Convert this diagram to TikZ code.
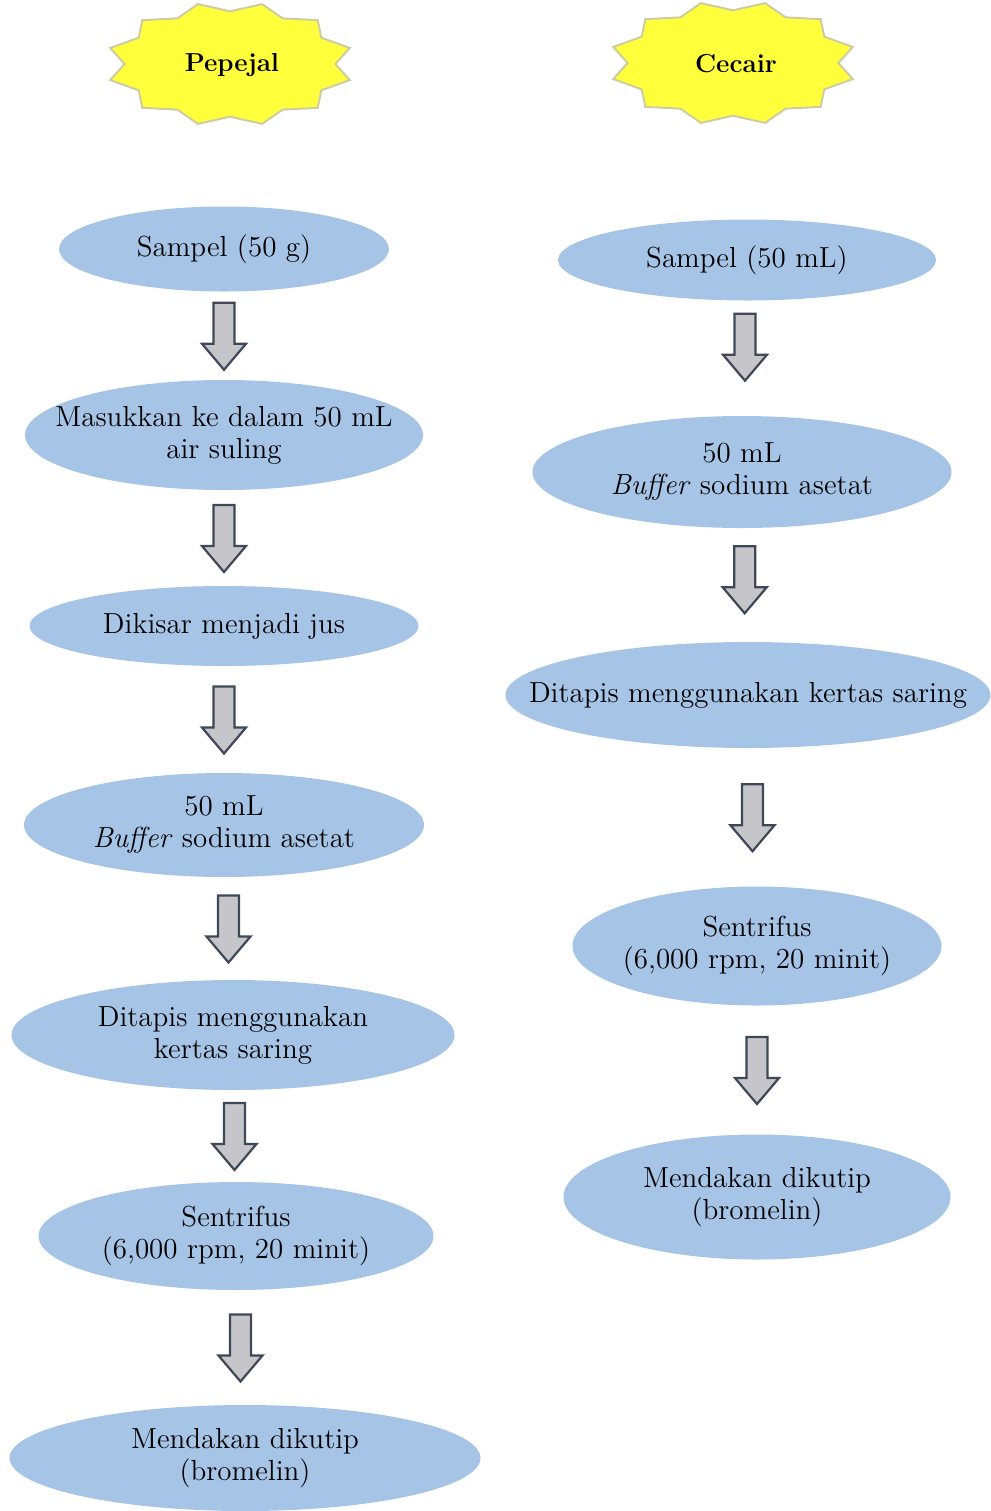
\documentclass[tikz,border=0pt]{standalone}
\usetikzlibrary{calc,shapes.geometric}
\definecolor{stepblue}{RGB}{166,196,230}
\definecolor{stargold}{RGB}{255,255,60}
\definecolor{staredge}{RGB}{205,205,160}
\definecolor{arrowgrey}{RGB}{198,198,202}
\definecolor{arrowedge}{RGB}{64,72,88}
\begin{document}
\begin{tikzpicture}[x=0.5pt, y=-0.5pt,
    oval/.style 2 args={minimum width=#1*0.5pt, minimum height=#2*0.5pt},
    stepbox/.style={ellipse, fill=stepblue, inner sep=-90pt, outer sep=0pt, align=center, font=\fontsize{14.5}{16}\selectfont},
    titlebox/.style={font=\fontsize{13}{16}\selectfont\bfseries},
    downarrow/.pic={\draw[fill=arrowgrey, draw=arrowedge, line width=1.1pt, line join=miter]
      (-10.5,-33) -- (10.5,-33) -- (10.5,8) -- (22,8) -- (0,34) -- (-22,8) -- (-10.5,8) -- cycle;},
    starburst/.pic={\draw[fill=stargold, draw=staredge, line width=1pt]
      (15:124 and 62) \foreach \i [evaluate=\i as \r using {1-0.15*mod(\i,2)}] in {1,...,23} { -- (15+15*\i:\r*124 and \r*62)} -- cycle;}
  ]
  \useasboundingbox (0,0) rectangle (991,1511);

  % titles
  \pic at (230,64) {starburst};
  \node[titlebox] (pepejal) at (232,65) {Pepejal};
  \pic at (733,63) {starburst};
  \node[titlebox] (cecair) at (736,64) {Cecair};

  % pepejal
  \node[stepbox, oval={330}{85}] (p1) at (224,249) {Sampel (50 g)};
  \node[stepbox, oval={398}{110}] (p2) at (224,435) {Masukkan ke dalam 50 mL\\air suling};
  \node[stepbox, oval={389}{80}] (p3) at (224,626) {Dikisar menjadi jus};
  \node[stepbox, oval={400}{104}] (p4) at (224,825) {50 mL\\\textit{Buffer} sodium asetat};
  \node[stepbox, oval={443}{110}] (p5) at (233,1035) {Ditapis menggunakan\\kertas saring};
  \node[stepbox, oval={395}{108}] (p6) at (236,1236) {Sentrifus\\(6,000 rpm, 20 minit)};
  \node[stepbox, oval={471}{106}] (p7) at (245,1458) {Mendakan dikutip\\(bromelin)};

  \pic at ($(p1.south)!0.5!(p2.north)$) {downarrow};
  \pic at ($(p2.south)!0.5!(p3.north)$) {downarrow};
  \pic at ($(p3.south)!0.5!(p4.north)$) {downarrow};
  \pic at ($(p4.south)!0.5!(p5.north)$) {downarrow};
  \pic at ($(p5.south)!0.5!(p6.north)$) {downarrow};
  \pic at ($(p6.south)!0.5!(p7.north)$) {downarrow};

  % cecair
  \node[stepbox, oval={378}{81}] (c1) at (747,260) {Sampel (50 mL)};
  \node[stepbox, oval={419}{112}] (c2) at (742,472) {50 mL\\\textit{Buffer} sodium asetat};
  \node[stepbox, oval={485}{106}] (c3) at (748,695) {Ditapis menggunakan kertas saring};
  \node[stepbox, oval={369}{119}] (c4) at (757,946) {Sentrifus\\(6,000 rpm, 20 minit)};
  \node[stepbox, oval={387}{125}] (c5) at (757,1197) {Mendakan dikutip\\(bromelin)};

  \pic at ($(c1.south)!0.4!(c2.north)$) {downarrow};
  \pic at ($(c2.south)!0.45!(c3.north)$) {downarrow};
  \pic at ($(c3.south)!0.5!(c4.north)$) {downarrow};
  \pic at ($(c4.south)!0.5!(c5.north)$) {downarrow};
\end{tikzpicture}
\end{document}
